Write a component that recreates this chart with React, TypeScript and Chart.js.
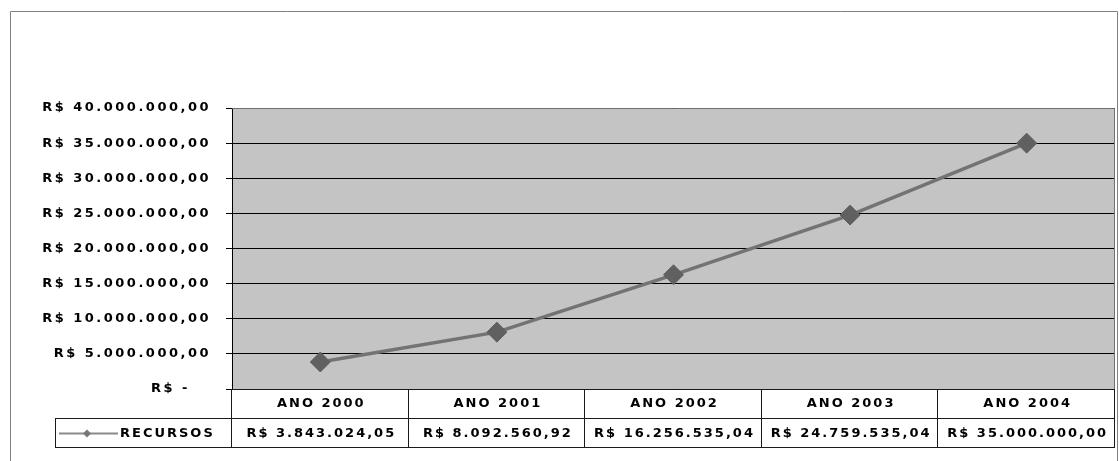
import React, { useEffect, useRef } from 'react';
import { Chart, registerables } from 'chart.js';

Chart.register(...registerables);

const categories = ['ANO 2000', 'ANO 2001', 'ANO 2002', 'ANO 2003', 'ANO 2004'];
const recursos = [3843024.05, 8092560.92, 16256535.04, 24759535.04, 35000000.0];
const seriesName = 'RECURSOS';
const yMin = 0;
const yMax = 40000000;
const yStep = 5000000;

const FONT_FAMILY = "'DejaVu Sans', 'Liberation Sans', Arial, sans-serif";
const FONT = `bold 13px ${FONT_FAMILY}`;
const AXIS_SPACING = '2.5px';
const TABLE_SPACING = '2px';

function fmtBRL(v: number): string {
  const fixed = v.toFixed(2);
  const [intPart, dec] = fixed.split('.');
  const withDots = intPart.replace(/\B(?=(\d{3})+(?!\d))/g, '.');
  return 'R$ ' + withDots + ',' + dec;
}

const tablePlugin = {
  id: 'dataTable',
  beforeDraw(chart: any) {
    const { ctx, chartArea: a } = chart;
    ctx.letterSpacing = AXIS_SPACING;
    ctx.save();
    ctx.fillStyle = '#c4c4c4';
    ctx.fillRect(a.left, a.top, a.right - a.left, a.bottom - a.top);
    ctx.restore();
  },
  afterDraw(chart: any) {
    const { ctx, chartArea: a } = chart;
    const xs = chart.scales.x;
    const n = categories.length;
    const colW = (a.right - a.left) / n;
    const y0 = a.bottom;
    const y1 = y0 + 29;
    const y2 = y1 + 29;
    const legendLeft = 55;

    ctx.save();
    ctx.letterSpacing = '0px';
    // outer frame
    ctx.strokeStyle = '#808080';
    ctx.lineWidth = 1;
    ctx.beginPath();
    ctx.moveTo(10.5, 470);
    ctx.lineTo(10.5, 11.5);
    ctx.lineTo(1117.5, 11.5);
    ctx.lineTo(1117.5, 470);
    ctx.stroke();

    // plot border top/right
    ctx.strokeStyle = '#707070';
    ctx.beginPath();
    ctx.moveTo(a.left, a.top + 0.5);
    ctx.lineTo(a.right - 0.5, a.top + 0.5);
    ctx.lineTo(a.right - 0.5, a.bottom);
    ctx.stroke();

    // table lines
    ctx.strokeStyle = '#1a1a1a';
    ctx.beginPath();
    ctx.moveTo(a.left, y0 + 0.5);
    ctx.lineTo(a.right, y0 + 0.5);
    ctx.moveTo(legendLeft, y1 + 0.5);
    ctx.lineTo(a.right, y1 + 0.5);
    ctx.moveTo(legendLeft, y2 + 0.5);
    ctx.lineTo(a.right, y2 + 0.5);
    ctx.moveTo(legendLeft + 0.5, y1);
    ctx.lineTo(legendLeft + 0.5, y2);
    for (let i = 0; i <= n; i++) {
      const x = Math.round(a.left + i * colW) - 0.5;
      ctx.moveTo(x, y0);
      ctx.lineTo(x, y2 + 1);
    }
    ctx.stroke();

    // texts
    ctx.letterSpacing = TABLE_SPACING;
    ctx.fillStyle = '#000';
    ctx.font = FONT;
    ctx.textBaseline = 'middle';
    ctx.textAlign = 'center';
    for (let i = 0; i < n; i++) {
      const cx = xs.getPixelForValue(i) + 1;
      ctx.fillText(categories[i], cx, (y0 + y1) / 2);
      ctx.fillText(fmtBRL(recursos[i]), cx, (y1 + y2) / 2 + 1);
    }
    ctx.textAlign = 'left';
    ctx.fillText(seriesName, 120, (y1 + y2) / 2 + 1);

    // legend sample
    const ly = (y1 + y2) / 2 + 1;
    ctx.strokeStyle = '#8a8a8a';
    ctx.lineWidth = 2;
    ctx.beginPath();
    ctx.moveTo(59, ly);
    ctx.lineTo(118, ly);
    ctx.stroke();
    ctx.fillStyle = '#777';
    ctx.beginPath();
    ctx.moveTo(87, ly - 4);
    ctx.lineTo(91, ly);
    ctx.lineTo(87, ly + 4);
    ctx.lineTo(83, ly);
    ctx.closePath();
    ctx.fill();
    ctx.restore();
  },
};

export default function App() {
  const ref = useRef<HTMLCanvasElement>(null);
  useEffect(() => {
    if (!ref.current) return;
    const chart = new Chart(ref.current, {
      type: 'line',
      data: {
        labels: categories,
        datasets: [
          {
            label: seriesName,
            data: recursos,
            borderColor: '#737373',
            borderWidth: 3.5,
            pointStyle: 'rectRot',
            pointRadius: 10,
            pointBackgroundColor: '#606060',
            pointBorderColor: '#606060',
            pointBorderWidth: 1,
            tension: 0,
          },
        ],
      },
      options: {
        responsive: false,
        animation: false,
        layout: { autoPadding: false, padding: { left: 0, top: 108, right: 4, bottom: 72 } },
        plugins: {
          legend: { display: false },
          tooltip: { enabled: false },
          title: { display: false },
        },
        scales: {
          x: {
            type: 'category',
            offset: true,
            display: false,
          },
          y: {
            min: yMin,
            max: yMax,
            ticks: {
              stepSize: yStep,
              color: '#000',
              font: { family: FONT_FAMILY, size: 13, weight: 'bold' },
              padding: 15,
              callback: (v: any) => (Number(v) === 0 ? 'R$ -   ' : fmtBRL(Number(v))),
            },
            grid: {
              color: '#000',
              lineWidth: 1,
              tickLength: 6,
              drawTicks: true,
            },
            border: { display: true, color: '#000' },
            afterFit: (scale: any) => {
              scale.width = 232;
            },
          },
        },
      },
      plugins: [tablePlugin],
    } as any);
    return () => chart.destroy();
  }, []);
  return (
    <div style={{ position: 'absolute', left: 0, top: 0, width: 1119, height: 461 }}>
      <canvas ref={ref} width={1119} height={461} />
    </div>
  );
}
